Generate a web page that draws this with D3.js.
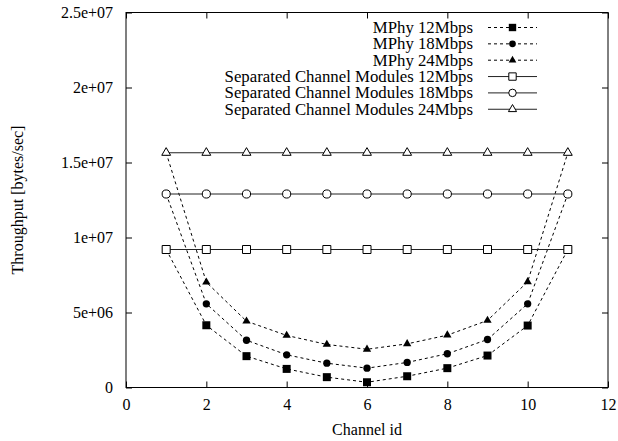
<!DOCTYPE html>
<html>
<head>
<meta charset="utf-8">
<script src="https://cdn.jsdelivr.net/npm/d3@7"></script>
<style>
  body { margin: 0; background: #fff; }
  svg { display: block; font-family: "Liberation Serif", "Times New Roman", serif; }
</style>
</head>
<body>
<div id="chart"></div>
<script>
const channels = [1, 2, 3, 4, 5, 6, 7, 8, 9, 10, 11];
const mphy12 = [9.2e6, 4.15e6, 2.09e6, 1.24e6, 0.69e6, 0.35e6, 0.75e6, 1.29e6, 2.13e6, 4.13e6, 9.2e6];
const mphy18 = [1.29e7, 5.58e6, 3.15e6, 2.18e6, 1.62e6, 1.29e6, 1.67e6, 2.25e6, 3.2e6, 5.58e6, 1.29e7];
const mphy24 = [1.565e7, 7.02e6, 4.42e6, 3.47e6, 2.87e6, 2.55e6, 2.91e6, 3.49e6, 4.47e6, 7.05e6, 1.565e7];
const sep12 = [9.2e6, 9.2e6, 9.2e6, 9.2e6, 9.2e6, 9.2e6, 9.2e6, 9.2e6, 9.2e6, 9.2e6, 9.2e6];
const sep18 = [1.29e7, 1.29e7, 1.29e7, 1.29e7, 1.29e7, 1.29e7, 1.29e7, 1.29e7, 1.29e7, 1.29e7, 1.29e7];
const sep24 = [1.565e7, 1.565e7, 1.565e7, 1.565e7, 1.565e7, 1.565e7, 1.565e7, 1.565e7, 1.565e7, 1.565e7, 1.565e7];

const xTicks = [0, 2, 4, 6, 8, 10, 12];
const yTicks = [0, 5e6, 1e7, 1.5e7, 2e7, 2.5e7];
const yTickLabels = ["0", "5e+06", "1e+07", "1.5e+07", "2e+07", "2.5e+07"];

const seriesNames = [
    "MPhy 12Mbps", "MPhy 18Mbps", "MPhy 24Mbps",
    "Separated Channel Modules 12Mbps", "Separated Channel Modules 18Mbps", "Separated Channel Modules 24Mbps"
];

const width = 618;
const height = 441;
const margin = { top: 12.5, right: 10, bottom: 53.5, left: 126 };

const svg = d3.select("#chart")
    .append("svg")
    .attr("width", width)
    .attr("height", height);

const x = d3.scaleLinear()
    .domain([0, 12])
    .range([margin.left, width - margin.right]);

const y = d3.scaleLinear()
    .domain([0, 2.5e7])
    .range([height - margin.bottom, margin.top]);

// 每条线的样式
const series = [
    { name: seriesNames[0], values: mphy12, symbol: d3.symbolSquare, size: 64, filled: true, dash: "3,3" },
    { name: seriesNames[1], values: mphy18, symbol: d3.symbolCircle, size: 42, filled: true, dash: "3,3" },
    { name: seriesNames[2], values: mphy24, symbol: d3.symbolTriangle, size: 30, filled: true, dash: "3,3" },
    { name: seriesNames[3], values: sep12, symbol: d3.symbolSquare, size: 64, filled: false, dash: null },
    { name: seriesNames[4], values: sep18, symbol: d3.symbolCircle, size: 52, filled: false, dash: null },
    { name: seriesNames[5], values: sep24, symbol: d3.symbolTriangle, size: 34, filled: false, dash: null }
];

function styleAxis(g) {
    g.attr("font-family", null).attr("font-size", null);
    g.select(".domain").remove();
    g.selectAll(".tick line").attr("stroke", "#000");
    g.selectAll(".tick text").attr("fill", "#000").style("font-size", "16px");
}

// 坐标轴（刻度朝内，四边镜像）
svg.append("g")
    .attr("transform", `translate(${margin.left},0)`)
    .call(d3.axisLeft(y).tickValues(yTicks).tickSize(-6).tickPadding(13)
        .tickFormat((d, i) => yTickLabels[i]))
    .call(styleAxis);

svg.append("g")
    .attr("transform", `translate(${width - margin.right},0)`)
    .call(d3.axisRight(y).tickValues(yTicks).tickSize(-6).tickFormat(""))
    .call(styleAxis);

svg.append("g")
    .attr("transform", `translate(0,${height - margin.bottom})`)
    .call(d3.axisBottom(x).tickValues(xTicks).tickSize(-6).tickPadding(11).tickFormat(d3.format("d")))
    .call(styleAxis);

svg.append("g")
    .attr("transform", `translate(0,${margin.top})`)
    .call(d3.axisTop(x).tickValues(xTicks).tickSize(-6).tickFormat(""))
    .call(styleAxis);

svg.append("rect")
    .attr("x", margin.left)
    .attr("y", margin.top)
    .attr("width", width - margin.right - margin.left)
    .attr("height", height - margin.bottom - margin.top)
    .attr("fill", "none")
    .attr("stroke", "#000");

// 轴标题
svg.append("text")
    .attr("x", (margin.left + width - margin.right) / 2)
    .attr("y", 435)
    .attr("text-anchor", "middle")
    .style("font-size", "16px")
    .text("Channel id");

svg.append("text")
    .attr("transform", "rotate(-90)")
    .attr("x", -200)
    .attr("y", 23)
    .attr("text-anchor", "middle")
    .style("font-size", "16px")
    .text("Throughput [bytes/sec]");

const line = d3.line()
    .x((d, i) => x(channels[i]))
    .y(d => y(d));

series.forEach(s => {
    svg.append("path")
        .datum(s.values)
        .attr("d", line)
        .attr("fill", "none")
        .attr("stroke", s.filled ? "#000" : "#222")
        .attr("stroke-width", 1)
        .attr("stroke-dasharray", s.dash);

    svg.selectAll(null)
        .data(s.values)
        .enter()
        .append("path")
        .attr("d", d3.symbol().type(s.symbol).size(s.size))
        .attr("transform", (d, i) => `translate(${x(channels[i])},${y(d)})`)
        .attr("fill", s.filled ? "#000" : "#fff")
        .attr("stroke", "#000")
        .attr("stroke-width", s.filled ? 0 : 1);
});

// 图例
const legend = svg.append("g");
series.forEach((s, i) => {
    const ly = 27.5 + i * 16.35;
    legend.append("text")
        .attr("x", 473)
        .attr("y", ly)
        .attr("dy", "0.33em")
        .attr("text-anchor", "end")
        .style("font-size", "16.8px")
        .text(s.name);
    legend.append("line")
        .attr("x1", 488).attr("x2", 537)
        .attr("y1", ly).attr("y2", ly)
        .attr("stroke", s.filled ? "#000" : "#222")
        .attr("stroke-width", 1)
        .attr("stroke-dasharray", s.dash);
    legend.append("path")
        .attr("d", d3.symbol().type(s.symbol).size(s.size * 0.85))
        .attr("transform", `translate(512.5,${ly})`)
        .attr("fill", s.filled ? "#000" : "#fff")
        .attr("stroke", "#000")
        .attr("stroke-width", s.filled ? 0 : 1);
});
</script>
</body>
</html>
